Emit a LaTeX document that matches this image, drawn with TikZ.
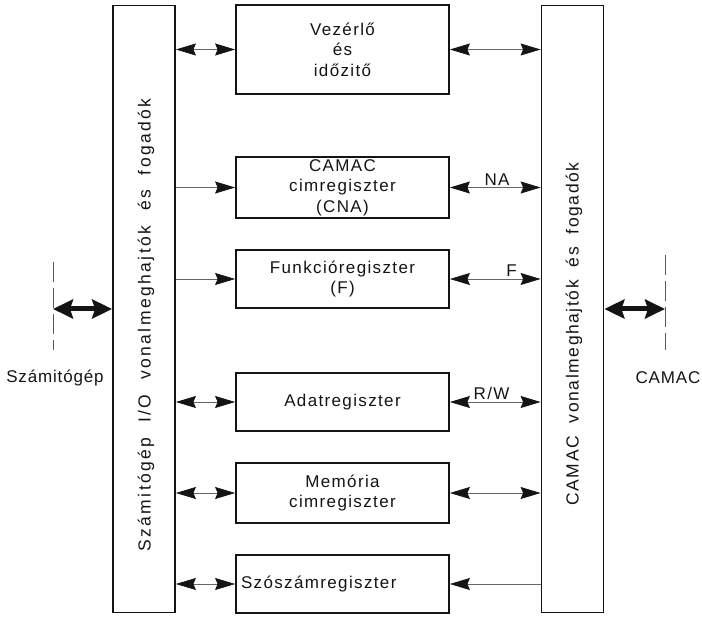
\documentclass[tikz,border=0pt]{standalone}
\usepackage{fontspec}
\setmainfont{Liberation Sans}
\newfontfamily\hfont[LetterSpace=8]{Liberation Sans}
\newfontfamily\vfont[LetterSpace=14,WordSpace=2]{Liberation Sans}
\newfontfamily\vrfont[LetterSpace=9,WordSpace=2]{Liberation Sans}
\newfontfamily\efont[LetterSpace=5]{Liberation Sans}
\usetikzlibrary{arrows.meta}
\definecolor{ink}{gray}{0.08}
\begin{document}
\begin{tikzpicture}[x=1pt,y=-1pt,
  >={Stealth[length=20pt,width=12pt,inset=2.5pt,color=ink]},
  regbox/.style={draw=ink, line width=1.8pt, minimum width=213pt, inner sep=0pt, align=center,
    text=ink, font=\hfont\fontsize{17}{20.5}\selectfont},
  busbox/.style={draw=ink, line width=1.8pt, minimum width=62pt, inner sep=0pt},
  vtext/.style={rotate=90, text=ink, inner sep=0pt, font=\vfont\fontsize{17.5}{20}\selectfont},
  vrtext/.style={rotate=90, text=ink, inner sep=0pt, font=\vrfont\fontsize{17.5}{20}\selectfont},
  lbl/.style={above, inner sep=2pt, text=ink, font=\hfont\fontsize{17}{20}\selectfont},
  conn/.style={line width=0.8pt, draw=black!60},
  thickarrow/.style={line width=5pt, draw=ink,
    arrows={Stealth[length=20pt,width=19pt,inset=3pt]-Stealth[length=20pt,width=19pt,inset=3pt]}},
  extline/.style={line width=0.8pt, draw=black!65, dash pattern=on 20pt off 6pt},
  extlbl/.style={text=ink, inner sep=0pt, font=\efont\fontsize{17}{20}\selectfont}
]
\useasboundingbox (0,0) rectangle (702,617);

% bus boxes
\node[busbox, minimum height=607pt] (L) at (144,309) {};
\node[busbox, minimum height=607pt] (R) at (572.5,309) {};
\node[vtext] (Lt) at (146,325) {Számitógép I/O vonalmeghajtók és fogadók};
\node[vrtext] (Rt) at (574,334) {CAMAC vonalmeghajtók és fogadók};

% register boxes
\node[regbox, minimum height=89pt] (V) at (342.5,49.5) {Vezérlő\\és\\időzitő};
\node[regbox, minimum height=61pt] (C) at (342.5,187.5) {CAMAC\\cimregiszter\\(CNA)};
\node[regbox, minimum height=58pt] (F) at (342.5,279) {Funkcióregiszter\\(F)};
\node[regbox, minimum height=58pt] (A) at (342.5,402) {Adatregiszter};
\node[regbox, minimum height=60pt] (M) at (342.5,493) {Memória\\cimregiszter};
\node[regbox, minimum height=58pt, text width=203pt, inner xsep=5pt, align=left] (S) at (342.5,584) {Szószámregiszter};

% left connectors
\draw[conn,<->] (L.east |- V.west) -- (V.west);
\draw[conn,->] (L.east |- C.west) -- (C.west);
\draw[conn,->] (L.east |- F.west) -- (F.west);
\draw[conn,<->] (L.east |- A.west) -- (A.west);
\draw[conn,<->] (L.east |- M.west) -- (M.west);
\draw[conn,<->] (L.east |- S.west) -- (S.west);

% right connectors
\draw[conn,<->] (V.east) -- (V.east -| R.west);
\draw[conn,<->] (C.east) -- node[lbl, pos=0.52] {NA} (C.east -| R.west);
\draw[conn,<->] (F.east) -- node[lbl, pos=0.68] {F} (F.east -| R.west);
\draw[conn,<->] (A.east) -- node[lbl, pos=0.46] {R/W} (A.east -| R.west);
\draw[conn,<->] (M.east) -- (M.east -| R.west);
\draw[conn,<-] (S.east) -- (S.east -| R.west);

% external links
\coordinate (cL) at (53,309);
\coordinate (cLt) at (53,262);
\coordinate (cLb) at (53,350);
\draw[extline] (cLt) -- (cLb);
\draw[thickarrow] (cL) -- (L.west);
\node[extlbl] (SzL) at (55,378) {Számitógép};

\coordinate (cR) at (665,309);
\coordinate (cRt) at (665,255);
\coordinate (cRb) at (665,350);
\draw[extline] (cRt) -- (cRb);
\draw[thickarrow] (R.east) -- (cR);
\node[extlbl] (CaR) at (668,378) {CAMAC};
\end{tikzpicture}
\end{document}
